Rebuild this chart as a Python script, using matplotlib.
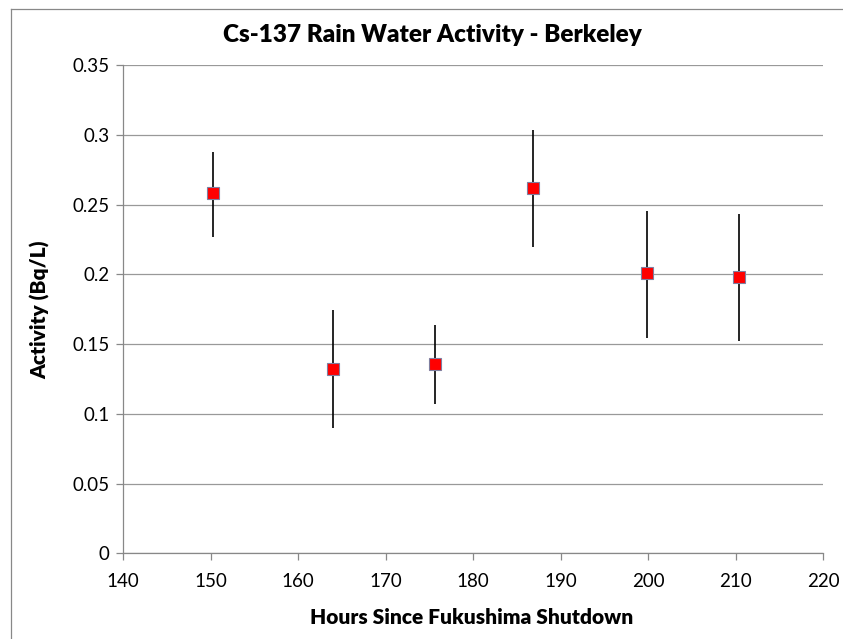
import matplotlib
matplotlib.use("Agg")
import matplotlib.pyplot as plt
from matplotlib.lines import Line2D

plt.rcParams['font.family'] = ['Lato', 'DejaVu Sans']

hours = [150.3, 164.0, 175.6, 186.8, 199.8, 210.4]
activity = [0.258, 0.132, 0.136, 0.262, 0.201, 0.198]
err_low = [0.031, 0.0425, 0.0287, 0.0426, 0.0466, 0.0459]
err_high = [0.0295, 0.0424, 0.0275, 0.0411, 0.0447, 0.0449]
xticks = [140, 150, 160, 170, 180, 190, 200, 210, 220]
yticks = [0, 0.05, 0.1, 0.15, 0.2, 0.25, 0.3, 0.35]
ytick_labels = ['0', '0.05', '0.1', '0.15', '0.2', '0.25', '0.3', '0.35']

fig = plt.figure(figsize=(8.43, 6.39), dpi=100)
ax = fig.add_axes([123.3/843, 1-553.3/639, 700/843, (553.3-65)/639])

ax.errorbar(hours, activity, yerr=[err_low, err_high], fmt='none',
            ecolor='black', elinewidth=1.2, capsize=0, zorder=3)
ax.plot(hours, activity, linestyle='none', marker='s', markersize=8.5,
        markerfacecolor='#ff0000', markeredgecolor='#7f7fa0',
        markeredgewidth=0.8, zorder=4)

ax.set_xlim(140, 220)
ax.set_ylim(0, 0.35)
ax.set_xticks(xticks)
ax.set_yticks(yticks)
ax.set_yticklabels(ytick_labels)
ax.grid(axis='y', color='#999999', linewidth=0.9)
ax.set_axisbelow(True)
for s in ['top', 'right']:
    ax.spines[s].set_visible(False)
for s in ['left', 'bottom']:
    ax.spines[s].set_color('#888888')
    ax.spines[s].set_linewidth(0.9)
ax.tick_params(axis='both', direction='out', length=5, width=0.9,
               color='#888888', labelsize=13.5, labelcolor='black')
ax.tick_params(axis='x', pad=9)
ax.tick_params(axis='y', pad=5)

fig.text(432/843, 1-35/639, 'Cs-137 Rain Water Activity - Berkeley',
         ha='center', va='center', fontsize=17.5, fontweight='heavy')
fig.text(472/843, 1-617/639, 'Hours Since Fukushima Shutdown',
         ha='center', va='center', fontsize=15, fontweight='heavy')
fig.text(40/843, 1-310/639, 'Activity (Bq/L)', rotation=90,
         ha='center', va='center', fontsize=15, fontweight='heavy')

# outer chart frame
fig.add_artist(Line2D([11/843, 11/843], [0, 1-9/639], transform=fig.transFigure,
                      color='#888888', linewidth=0.9))
fig.add_artist(Line2D([11/843, 1], [1-9/639, 1-9/639], transform=fig.transFigure,
                      color='#888888', linewidth=0.9))

fig.savefig('out.png', dpi=100)
